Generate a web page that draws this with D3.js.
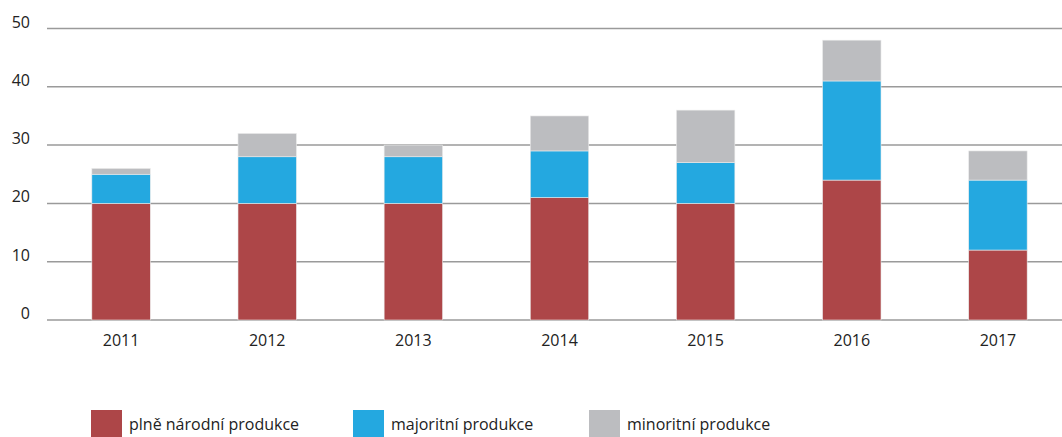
<!DOCTYPE html>
<html>
<head>
<meta charset="utf-8">
<script src="https://cdn.jsdelivr.net/npm/d3@7"></script>
<style>
    body { margin: 0; background: #fff; }
    svg text { font-family: "Open Sans", "Noto Sans", sans-serif; fill: #222; }
</style>
</head>
<body>
<div id="chart"></div>
<script>
const years = ["2011", "2012", "2013", "2014", "2015", "2016", "2017"];
const plneNarodni = [20, 20, 20, 21, 20, 24, 12];
const majoritni = [5, 8, 8, 8, 7, 17, 12];
const minoritni = [1, 4, 2, 6, 9, 7, 5];
const seriesNames = ["plně národní produkce", "majoritní produkce", "minoritní produkce"];
const yTicks = [0, 10, 20, 30, 40, 50];

const colors = ["#ad4648", "#24a8e0", "#bcbdc0"];

const width = 1062, height = 437;

const rows = years.map((y, i) => ({
    year: y,
    s0: plneNarodni[i],
    s1: majoritni[i],
    s2: minoritni[i]
}));

const stack = d3.stack().keys(["s0", "s1", "s2"]);
const layers = stack(rows);

const x = d3.scaleBand()
    .domain(years)
    .range([48, 1071])
    .paddingInner(0.6)
    .paddingOuter(0.3);

const y = d3.scaleLinear()
    .domain([0, 50])
    .range([320, 28.5]);

const svg = d3.select("#chart").append("svg")
    .attr("width", width)
    .attr("height", height);

// gridlines
svg.append("g")
    .selectAll("line")
    .data(yTicks)
    .join("line")
    .attr("x1", 47)
    .attr("x2", width)
    .attr("y1", d => y(d))
    .attr("y2", d => y(d))
    .attr("stroke", "#9a9a9a")
    .attr("stroke-width", 1.5);

// y labels
svg.append("g")
    .selectAll("text")
    .data(yTicks)
    .join("text")
    .attr("x", 30)
    .attr("y", d => y(d) - 1)
    .attr("text-anchor", "end")
    .attr("font-size", 16)
    .text(d => d);

// bars
svg.append("g")
    .selectAll("g")
    .data(layers)
    .join("g")
    .attr("fill", (d, i) => colors[i])
    .selectAll("rect")
    .data(d => d)
    .join("rect")
    .attr("x", d => x(d.data.year))
    .attr("width", x.bandwidth())
    .attr("y", d => y(d[1]))
    .attr("height", d => y(d[0]) - y(d[1]))
    .attr("stroke", "#ececec")
    .attr("stroke-width", 0.6);

// x labels
svg.append("g")
    .selectAll("text")
    .data(years)
    .join("text")
    .attr("x", d => x(d) + x.bandwidth() / 2)
    .attr("y", 346)
    .attr("text-anchor", "middle")
    .attr("font-size", 16)
    .text(d => d);

// legend
const legendX = [91, 353, 589];
const legend = svg.append("g")
    .selectAll("g")
    .data(seriesNames)
    .join("g")
    .attr("transform", (d, i) => `translate(${legendX[i]},410)`);

legend.append("rect")
    .attr("width", 31)
    .attr("height", 31)
    .attr("fill", (d, i) => colors[i]);

legend.append("text")
    .attr("x", 38)
    .attr("y", 20)
    .attr("font-size", 16)
    .text(d => d);
</script>
</body>
</html>
